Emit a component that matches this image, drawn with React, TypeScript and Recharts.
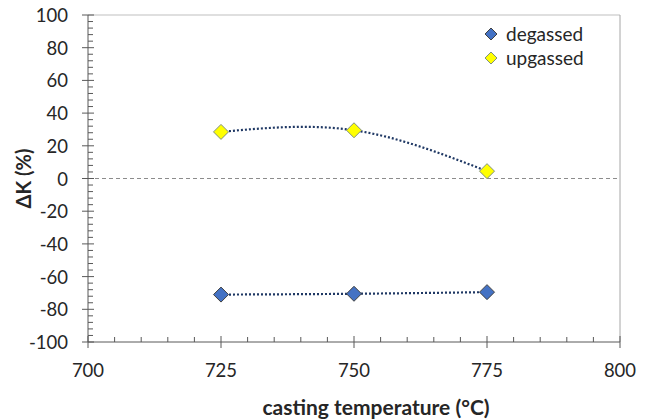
import React from "react";
import {
  ComposedChart,
  Line,
  XAxis,
  YAxis,
  ReferenceLine,
  Legend,
} from "recharts";

const temps = [725, 750, 775];
const degassed = [-71, -70.5, -69.5];
const upgassed = [28.5, 29.5, 4.5];
const xTicks = [700, 705, 710, 715, 720, 725, 730, 735, 740, 745, 750, 755, 760, 765, 770, 775, 780, 785, 790, 795, 800];
const yTicks = [
  -100, -96, -92, -88, -84, -80, -76, -72, -68, -64, -60, -56, -52, -48, -44, -40, -36, -32, -28, -24, -20, -16, -12,
  -8, -4, 0, 4, 8, 12, 16, 20, 24, 28, 32, 36, 40, 44, 48, 52, 56, 60, 64, 68, 72, 76, 80, 84, 88, 92, 96, 100,
];
const series = [
  { key: "degassed", fill: "#4472C4", stroke: "#404040" },
  { key: "upgassed", fill: "#FFFF00", stroke: "#7F8F7F" },
];

const rows = temps.map((t, i) => ({ t, degassed: degassed[i], upgassed: upgassed[i] }));

const AXIS = "#595959";
const TEXT = "#262626";

const XTick = (props: any) => {
  const { x, y, payload } = props;
  const major = payload.value % 25 === 0;
  return (
    <g>
      {major ? (
        <>
          <line x1={x} x2={x} y1={y - 6} y2={y + 6} stroke={AXIS} />
          <text x={x} y={y + 35} textAnchor="middle" fontSize={18.5} fill={TEXT}>
            {payload.value}
          </text>
        </>
      ) : (
        <line x1={x} x2={x} y1={y - 5} y2={y} stroke={AXIS} />
      )}
    </g>
  );
};

const YTick = (props: any) => {
  const { x, y, payload } = props;
  const major = payload.value % 20 === 0;
  return (
    <g>
      {major ? (
        <>
          <line x1={x - 6} x2={x + 6} y1={y} y2={y} stroke={AXIS} />
          <text x={x - 20} y={y + 7} textAnchor="end" fontSize={18.5} fill={TEXT}>
            {payload.value}
          </text>
        </>
      ) : (
        <line x1={x} x2={x + 5} y1={y} y2={y} stroke={AXIS} />
      )}
    </g>
  );
};

const Diamond = (props: any) => {
  const { cx, cy, fill, stroke } = props;
  if (cx == null || cy == null) return null;
  const r = 7.5;
  return (
    <path
      d={`M${cx},${cy - r}L${cx + r},${cy}L${cx},${cy + r}L${cx - r},${cy}Z`}
      fill={fill}
      stroke={stroke}
      strokeWidth={1}
    />
  );
};

const renderLegend = () => (
  <div style={{ fontSize: 19, color: TEXT, lineHeight: "24px" }}>
    {series.map((s) => (
      <div key={s.key} style={{ display: "flex", alignItems: "center" }}>
        <svg width={14} height={14} style={{ marginRight: 8 }}>
          <path d="M7,1L13,7L7,13L1,7Z" fill={s.fill} stroke={s.stroke} />
        </svg>
        {s.key}
      </div>
    ))}
  </div>
);

export default function App() {
  return (
    <div style={{ position: "absolute", left: 0, top: 0, fontFamily: "Lato, sans-serif", background: "#fff" }}>
      <ComposedChart width={650} height={420} data={rows} margin={{ top: 15, right: 30, bottom: 0, left: 0 }}>
        <ReferenceLine y={100} stroke="#bfbfbf" />
        <ReferenceLine x={800} stroke="#a6a6a6" />
        <ReferenceLine y={0} stroke="#8c8c8c" strokeDasharray="4 3" />
        <XAxis
          dataKey="t"
          type="number"
          domain={[700, 800]}
          ticks={xTicks}
          interval={0}
          tickSize={0}
          tickMargin={0}
          tick={XTick}
          height={78}
          stroke={AXIS}
          allowDataOverflow
          label={{
            value: "casting temperature (°C)",
            position: "insideBottom",
            offset: 5,
            dx: 22,
            style: { fontSize: 21, fontWeight: 700, fill: TEXT },
          }}
        />
        <YAxis
          type="number"
          domain={[-100, 100]}
          ticks={yTicks}
          interval={0}
          tickSize={0}
          tickMargin={0}
          tick={YTick}
          width={88}
          stroke={AXIS}
          allowDataOverflow
          label={{
            value: "ΔK (%)",
            angle: -90,
            position: "insideLeft",
            offset: 24,
            style: { fontSize: 20, fontWeight: 700, fill: TEXT, textAnchor: "middle" },
          }}
        />
        <Legend
          content={renderLegend}
          layout="horizontal"
          verticalAlign="middle"
          align="center"
          wrapperStyle={{ top: 22, left: 484, width: 150 }}
        />
        {series.map((s) => (
          <Line
            key={s.key}
            dataKey={s.key}
            type="natural"
            stroke="#1F3864"
            strokeWidth={2.2}
            strokeDasharray="2 2"
            dot={(p: any) => <Diamond key={`${s.key}-${p.index}`} {...p} fill={s.fill} stroke={s.stroke} />}
            activeDot={false}
            isAnimationActive={false}
            legendType="diamond"
          />
        ))}
      </ComposedChart>
    </div>
  );
}
